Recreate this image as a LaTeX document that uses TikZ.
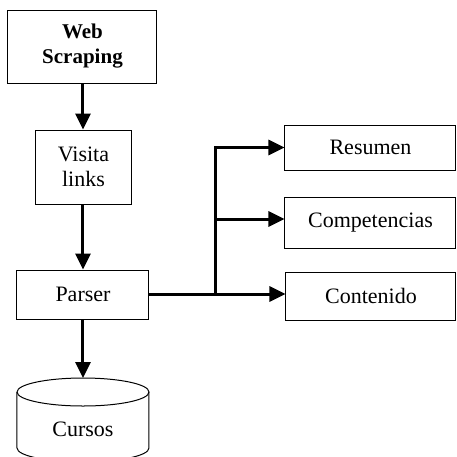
\documentclass[tikz,border=0pt]{standalone}
\usepackage{fontspec}
\setmainfont{Liberation Serif}
\usetikzlibrary{arrows.meta}
\begin{document}
\begin{tikzpicture}[x=0.5pt,y=-0.5pt,
  txt/.style={font=\fontsize{11}{12.5}\selectfont},
  box/.style={draw,line width=0.5pt,inner sep=0pt,align=center,txt},
  conn/.style={line width=1.5pt},
  arr/.style={conn,-{Triangle[length=8pt,width=7.5pt]}}]
\useasboundingbox (0,0) rectangle (457,457);
\node[box,minimum width=74.5pt,minimum height=36.5pt,font=\fontsize{10.5}{12.5}\selectfont\bfseries] (web) at (82.5,46.5) {Web\\Scraping};
\node[box,minimum width=48pt,minimum height=37pt] (visita) at (83.5,167) {Visita\\links};
\node[box,minimum width=66pt,minimum height=24.5pt] (parser) at (83,294.5) {Parser};
\node[box,minimum width=85.5pt,minimum height=22.5pt] (resumen) at (370.5,147.5) {Resumen};
\node[box,minimum width=85.5pt,minimum height=25.5pt] (comp) at (370.5,222.5) {Competencias};
\node[box,minimum width=85pt,minimum height=24pt] (cont) at (371,296) {Contenido};
% cylinder
\coordinate (cyltop) at (83,378);
\draw[line width=0.5pt] (17,392) arc[start angle=180,end angle=-180,x radius=66,y radius=14];
\draw[line width=0.5pt] (17,392) -- (17,448) arc[start angle=180,end angle=0,x radius=66,y radius=14] -- (149,392);
\node[txt,inner sep=0pt] (cursos) at (83,429) {Cursos};
% connectors
\coordinate (jn) at (216,294);
\coordinate (jc) at (216,219);
\draw[arr] (83,0 |- web.south) -- (83,0 |- visita.north);
\draw[arr] (83,0 |- visita.south) -- (83,0 |- parser.north);
\draw[arr] (parser.south) -- (cyltop);
\draw[conn] (parser.east |- jn) -- (jn);
\draw[arr] (jn) |- (resumen.west);
\draw[arr] (jc) -- (jc -| comp.west);
\draw[arr] (jn) -- (jn -| cont.west);
\end{tikzpicture}
\end{document}
